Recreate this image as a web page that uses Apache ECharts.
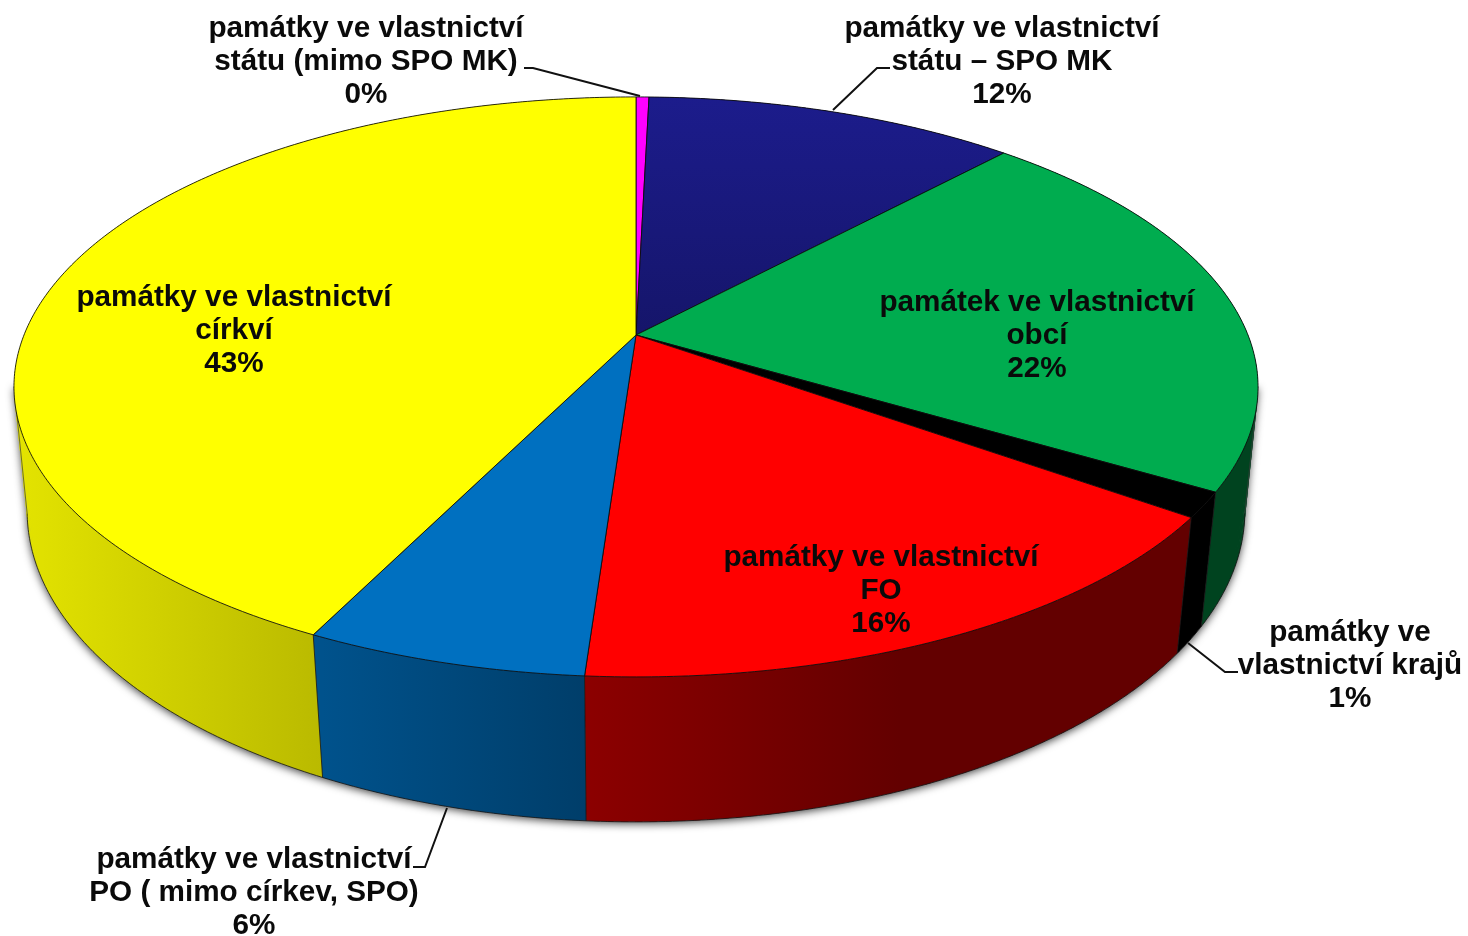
<!DOCTYPE html>
<html>
<head>
<meta charset="utf-8">
<title>Vlastnictví památek</title>
<script src="https://cdn.jsdelivr.net/npm/echarts@6/dist/echarts.min.js"></script>
<style>
html,body{margin:0;padding:0;background:#fff;}
#chart{width:1468px;height:936px;}
</style>
</head>
<body>
<div id="chart"></div>
<script>
//data, clockwise from 12 o'clock
var names = [
	'památky ve vlastnictví\nstátu (mimo SPO MK)',
	'památky ve vlastnictví\nstátu – SPO MK',
	'památek ve vlastnictví\nobcí',
	'památky ve\nvlastnictví krajů',
	'památky ve vlastnictví\nFO',
	'památky ve vlastnictví\nPO ( mimo církev, SPO)',
	'památky ve vlastnictví\ncírkví'
];
var values = [0.4, 11.5, 21.6, 1.4, 16.2, 6.2, 42.7];
var colors = ['#ff00ff', '#1c1c8c', '#00ac4f', '#000000', '#ff0000', '#0070c0', '#ffff00'];

//layout: label centres and leader lines, in pixels
var labelPos = [[366, 62], [1002, 62], [1037, 336], [1350, 666], [881, 591], [254, 893], [234, 331]];
var leaders = [
	[[524, 68], [533, 68], [640, 96]],
	[[890, 68], [877, 68], [833, 110]],
	null,
	[[1238, 672], [1225, 672], [1188, 643]],
	null,
	[[413, 867], [425, 867], [447, 808]],
	null
];

//perspective of the disc: top face and bottom face
var TOP = {cx: 636, cy: 335, a: 612, b: 280.7, k: 0.179};
var BOTTOM = {cx: 636, cy: 458, a: 600, b: 302, k: 0.17};
//where the rim turns away from the viewer (radians from 12 o'clock)
var RIM = 1.75;
//brightness of the rim by screen x
var shadeX = [20, 322, 585, 900, 1468];
var shadeF = [0.89, 0.73, 0.55, 0.39, 0.39];

var total = values.reduce(function(s, v) { return s + v; }, 0);
var cumulative = [0];
values.forEach(function(v, i) { cumulative.push(cumulative[i] + v); });

function angleOf(share) {
	return share / total * 2 * Math.PI;
}

function project(face, theta, api) {
	var x = Math.sin(theta);
	var y = -Math.cos(theta);
	var w = 1 - face.k * y;
	return api.coord([face.cx + face.a * x / w, face.cy + face.b * y / w]);
}

function arc(face, from, to, api) {
	var pts = [];
	var n = Math.max(2, Math.ceil((to - from) / 0.01));
	for (var i = 0; i <= n; i++) {
		pts.push(project(face, from + (to - from) * i / n, api));
	}
	return pts;
}

function shaded(hex) {
	var r = parseInt(hex.substr(1, 2), 16);
	var g = parseInt(hex.substr(3, 2), 16);
	var b = parseInt(hex.substr(5, 2), 16);
	var stops = shadeX.map(function(x, i) {
		var f = shadeF[i];
		return {
			offset: x / 1468,
			color: 'rgb(' + Math.round(r * f) + ',' + Math.round(g * f) + ',' + Math.round(b * f) + ')'
		};
	});
	return new echarts.graphic.LinearGradient(0, 0, 1468, 0, stops, true);
}

//soft shadow under the front of the disc
function renderShadow(params, api) {
	var pts = arc(BOTTOM, RIM, 2 * Math.PI - RIM, api);
	pts.unshift(project(TOP, RIM, api));
	pts.push(project(TOP, 2 * Math.PI - RIM, api));
	return {
		type: 'polygon',
		shape: {points: pts},
		style: {fill: '#888', shadowBlur: 9, shadowColor: 'rgba(0,0,0,0.75)', shadowOffsetY: 2}
	};
}

function renderSide(params, api) {
	var i = params.dataIndex;
	var from = angleOf(cumulative[i]);
	var to = angleOf(cumulative[i + 1]);
	var fill = shaded(colors[i]);
	var children = [];
	var step = 0.02;
	//narrow overlapping quads so that the rim keeps its outer tangent
	for (var t = from; t < to; t += step) {
		var end = Math.min(to, t + step * 1.5);
		children.push({
			type: 'polygon',
			shape: {points: [
				project(TOP, t, api), project(TOP, end, api),
				project(BOTTOM, end, api), project(BOTTOM, t, api)
			]},
			style: {fill: fill}
		});
	}
	var lineStyle = {fill: null, stroke: 'rgba(20,20,20,0.8)', lineWidth: 1};
	//seam on the visible front only
	if (Math.cos(from) < -0.17) {
		children.push({
			type: 'polyline',
			shape: {points: [project(TOP, from, api), project(BOTTOM, from, api)]},
			style: lineStyle
		});
	}
	//outer silhouette lines
	[RIM, 2 * Math.PI - RIM].forEach(function(r) {
		if (r >= from && r < to) {
			children.push({
				type: 'polyline',
				shape: {points: [project(TOP, r, api), project(BOTTOM, r, api)]},
				style: {fill: null, stroke: 'rgba(60,60,60,0.7)', lineWidth: 1}
			});
		}
	});
	//lower edge on the front part
	var edgeFrom = Math.max(from, RIM);
	var edgeTo = Math.min(to, 2 * Math.PI - RIM);
	if (edgeTo > edgeFrom) {
		children.push({
			type: 'polyline',
			shape: {points: arc(BOTTOM, edgeFrom, edgeTo, api)},
			style: lineStyle
		});
	}
	return {type: 'group', children: children};
}

function renderTop(params, api) {
	var i = params.dataIndex;
	var pts = arc(TOP, angleOf(cumulative[i]), angleOf(cumulative[i + 1]), api);
	pts.unshift(api.coord([TOP.cx, TOP.cy]));
	var fill = colors[i];
	if (i === 1) {
		fill = new echarts.graphic.LinearGradient(0, 97, 0, 335, [
			{offset: 0, color: '#1c1c8c'},
			{offset: 1, color: '#15156a'}
		], true);
	}
	return {
		type: 'polygon',
		shape: {points: pts},
		style: {fill: fill, stroke: 'rgba(10,10,10,0.85)', lineWidth: 1}
	};
}

function renderLabel(params, api) {
	var i = params.dataIndex;
	var pos = api.coord(labelPos[i]);
	var children = [{
		type: 'text',
		style: {
			x: pos[0],
			y: pos[1],
			text: names[i] + '\n' + Math.round(api.value(0) / total * 100) + '%',
			align: 'center',
			verticalAlign: 'middle',
			fontFamily: '"Liberation Sans", Arial, sans-serif',
			fontWeight: 'bold',
			fontSize: 29.7,
			lineHeight: 33,
			fill: '#0a0a0a'
		}
	}];
	if (leaders[i]) {
		children.unshift({
			type: 'polyline',
			shape: {points: leaders[i].map(function(p) { return api.coord(p); })},
			style: {fill: null, stroke: '#111', lineWidth: 2}
		});
	}
	return {type: 'group', children: children};
}

var chart = echarts.init(document.getElementById('chart'), null, {renderer: 'canvas'});
var rows = values.map(function(v) { return [v]; });

chart.setOption({
	animation: false,
	backgroundColor: '#fff',
	grid: {left: 0, right: 0, top: 0, bottom: 0},
	xAxis: {type: 'value', min: 0, max: 1468, show: false},
	yAxis: {type: 'value', min: 0, max: 936, inverse: true, show: false},
	tooltip: {show: false},
	series: [
		{type: 'custom', coordinateSystem: 'cartesian2d', clip: false, silent: true, z: 1, renderItem: renderShadow, data: [[0]]},
		{type: 'custom', coordinateSystem: 'cartesian2d', clip: false, silent: true, z: 2, renderItem: renderSide, data: rows},
		{type: 'custom', coordinateSystem: 'cartesian2d', clip: false, silent: true, z: 3, renderItem: renderTop, data: rows},
		{type: 'custom', coordinateSystem: 'cartesian2d', clip: false, silent: true, z: 4, renderItem: renderLabel, data: rows}
	]
});

window.addEventListener('resize', function() { chart.resize(); });
</script>
</body>
</html>
